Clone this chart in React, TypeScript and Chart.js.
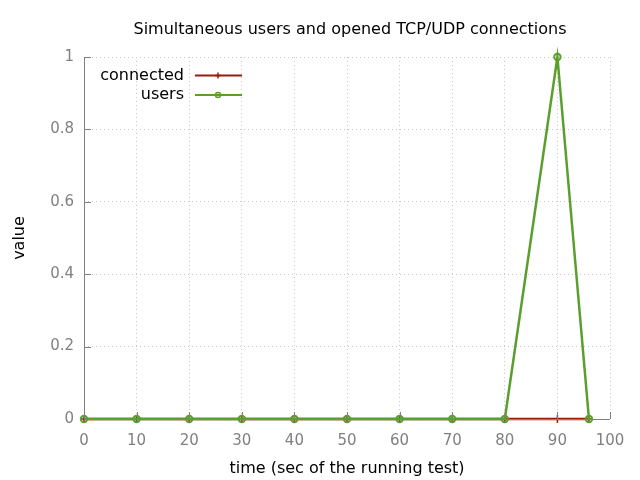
import React, { useEffect, useRef } from "react";
import { Chart, registerables } from "chart.js";

Chart.register(...registerables);

const chartTitle = "Simultaneous users and opened TCP/UDP connections";
const xTitle = "time (sec of the running test)";
const yTitle = "value";
const timeSec = [0, 10, 20, 30, 40, 50, 60, 70, 80, 90, 96];
const connected = [0, 0, 0, 0, 0, 0, 0, 0, 0, 0, 0];
const users = [0, 0, 0, 0, 0, 0, 0, 0, 0, 1, 0];
const seriesNames = ["connected", "users"];
const seriesColors = ["#9c1a10", "#5a9e2c"];

const FONT = "'DejaVu Sans', sans-serif";
const AXIS = "#808080";

const gnuplotPlugin = {
  id: "gnuplotDecor",
  afterDraw(chart: any) {
    const { ctx, chartArea } = chart;
    const xs = chart.scales.x;
    const ys = chart.scales.y;
    ctx.save();
    ctx.strokeStyle = AXIS;
    ctx.lineWidth = 1;
    ctx.beginPath();
    ctx.moveTo(chartArea.left + 0.5, chartArea.top);
    ctx.lineTo(chartArea.left + 0.5, chartArea.bottom + 0.5);
    ctx.lineTo(chartArea.right, chartArea.bottom + 0.5);
    ctx.stroke();
    ctx.beginPath();
    xs.ticks.forEach((t: any) => {
      const px = Math.round(xs.getPixelForValue(t.value)) + 0.5;
      ctx.moveTo(px, chartArea.bottom);
      ctx.lineTo(px, chartArea.bottom - 7);
    });
    ys.ticks.forEach((t: any) => {
      const py = Math.round(ys.getPixelForValue(t.value)) + 0.5;
      ctx.moveTo(chartArea.left, py);
      ctx.lineTo(chartArea.left + 7, py);
    });
    ctx.stroke();
    ctx.fillStyle = "#000";
    ctx.font = `16px ${FONT}`;
    ctx.textAlign = "center";
    ctx.textBaseline = "middle";
    ctx.fillText(chartTitle, (chartArea.left + chartArea.right) / 2 + 3, 30);
    ctx.font = `16px ${FONT}`;
    ctx.textAlign = "right";
    chart.data.datasets.forEach((ds: any, i: number) => {
      const y = chartArea.top + 18.5 + i * 19.5;
      const tx = chartArea.left + 100;
      ctx.fillStyle = "#000";
      ctx.fillText(ds.label, tx, y);
      ctx.strokeStyle = ds.borderColor;
      ctx.lineWidth = 2;
      ctx.beginPath();
      ctx.moveTo(tx + 11, y);
      ctx.lineTo(tx + 58, y);
      ctx.stroke();
      const cx = tx + 34;
      ctx.lineWidth = 1.5;
      ctx.beginPath();
      if (ds.pointStyle === "circle") {
        ctx.arc(cx, y, 2.5, 0, Math.PI * 2);
      } else {
        ctx.moveTo(cx - 3, y);
        ctx.lineTo(cx + 3, y);
        ctx.moveTo(cx, y - 3);
        ctx.lineTo(cx, y + 3);
      }
      ctx.stroke();
    });
    ctx.restore();
  },
};

export default function App() {
  const ref = useRef<HTMLCanvasElement | null>(null);
  useEffect(() => {
    document.body.style.margin = "0";
    const canvas = ref.current!;
    const chart = new Chart(canvas, {
      type: "line",
      data: {
        datasets: [
          {
            label: seriesNames[0],
            data: timeSec.map((x, i) => ({ x, y: connected[i] })),
            borderColor: seriesColors[0],
            backgroundColor: seriesColors[0],
            borderWidth: 2.5,
            pointStyle: "cross",
            pointRadius: 4,
            pointBorderWidth: 1.5,
            clip: false,
            order: 1,
          },
          {
            label: seriesNames[1],
            data: timeSec.map((x, i) => ({ x, y: users[i] })),
            borderColor: seriesColors[1],
            backgroundColor: "rgba(255,255,255,0)",
            borderWidth: 2.5,
            pointStyle: "circle",
            pointRadius: 3.2,
            pointBorderWidth: 2,
            clip: false,
            order: 0,
          },
        ],
      },
      options: {
        animation: false,
        responsive: false,
        layout: { padding: { left: 0, right: 30, top: 57, bottom: 0 } },
        plugins: { legend: { display: false }, title: { display: false }, tooltip: { enabled: false } },
        scales: {
          x: {
            type: "linear",
            min: 0,
            max: 100,
            ticks: { stepSize: 10, color: AXIS, font: { family: FONT, size: 15 }, padding: 13 },
            grid: { color: "#c8c8c8", drawTicks: false, tickLength: 0 },
            border: { display: false, dash: [1, 3] },
            title: { display: true, text: xTitle, color: "#000", font: { family: FONT, size: 16 }, padding: { top: 0, bottom: 2 } },
            afterFit: (s: any) => { s.height = 61; },
          },
          y: {
            type: "linear",
            min: 0,
            max: 1,
            ticks: {
              stepSize: 0.2,
              color: AXIS,
              font: { family: FONT, size: 15 },
              padding: 10,
              callback: (v: any) => String(Number(Number(v).toFixed(1))),
            },
            grid: { color: "#c8c8c8", drawTicks: false, tickLength: 0 },
            border: { display: false, dash: [1, 3] },
            title: { display: true, text: yTitle, color: "#000", font: { family: FONT, size: 16 }, padding: { top: 10, bottom: 0 } },
            afterFit: (s: any) => { s.width = 84; },
          },
        },
      },
      plugins: [gnuplotPlugin],
    });
    return () => chart.destroy();
  }, []);
  return <canvas ref={ref} width={640} height={480} style={{ display: "block" }} />;
}
